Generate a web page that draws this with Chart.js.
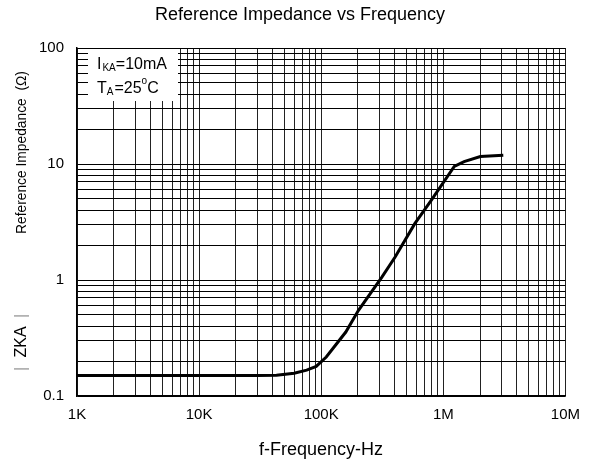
<!DOCTYPE html>
<html lang="en">
<head>
    <meta charset="UTF-8">
    <title>Reference Impedance vs Frequency</title>
    <script src="https://cdn.jsdelivr.net/npm/chart.js"></script>
    <style>
        html, body { margin: 0; padding: 0; background: #fff; }
        #wrap { width: 590px; height: 465px; }
    </style>
</head>
<body>
<div id="wrap"><canvas id="zkaChart" width="590" height="465"></canvas></div>

<script>
    // values
    const freqHz = [1000, 10000, 30000, 43000, 60000, 76000, 91000, 110000, 159000, 202000,
                    314000, 403000, 584000, 796000, 1230000, 1480000, 2010000, 3100000];
    const zkaOhm = [0.15, 0.15, 0.15, 0.151, 0.157, 0.167, 0.18, 0.217, 0.356, 0.548,
                    1.06, 1.58, 3.06, 4.86, 9.55, 10.5, 11.6, 11.9];

    const xTickLabels = { 1e3: '1K', 1e4: '10K', 1e5: '100K', 1e6: '1M', 1e7: '10M' };
    const yTickLabels = { 0.1: '0.1', 1: '1', 10: '10', 100: '100' };

    const FONT = '"Liberation Sans", Arial, sans-serif';

    // 1..9 x 10^n ticks so every log grid line is drawn
    function logTicks(min, max) {
        const out = [];
        for (let e = Math.round(Math.log10(min)); e < Math.round(Math.log10(max)); e++) {
            for (let m = 1; m < 10; m++) out.push(+(m * Math.pow(10, e)).toPrecision(3));
        }
        out.push(max);
        return out.map(v => ({ value: v }));
    }

    const textPlugin = {
        id: 'textPlugin',
        beforeDatasetsDraw(chart) {
            const ctx = chart.ctx;
            // white legend box hiding the grid
            ctx.save();
            ctx.fillStyle = '#fff';
            ctx.fillRect(88, 49, 90, 52);
            ctx.restore();
        },
        afterDraw(chart) {
            const ctx = chart.ctx;
            ctx.save();
            ctx.fillStyle = '#000';
            ctx.textBaseline = 'alphabetic';

            // title
            ctx.font = '18px ' + FONT;
            ctx.textAlign = 'center';
            ctx.fillText('Reference Impedance vs Frequency', 300, 20);

            // x title
            ctx.fillText('f-Frequency-Hz', 321, 455);

            // y title (rotated, a bit squeezed along its length like the original)
            ctx.save();
            ctx.translate(26, 222);
            ctx.rotate(-Math.PI / 2);
            ctx.textAlign = 'left';
            ctx.font = '15px ' + FONT;
            ctx.save();
            ctx.scale(0.92, 1);
            ctx.fillText('Reference Impedance  (\u03A9)', -12 / 0.92, 0);
            ctx.restore();
            ctx.textAlign = 'center';
            ctx.font = '16px ' + FONT;
            ctx.fillText('ZKA', -120, 0);
            ctx.fillStyle = '#999';
            ctx.fillText('|', -147, 0);
            ctx.fillText('|', -94, 0);
            ctx.restore();

            // legend text
            ctx.textAlign = 'left';
            let x = 97;
            ctx.font = '16px ' + FONT;
            ctx.fillText('I', x, 69);
            x += ctx.measureText('I').width + 1;
            ctx.font = '10px ' + FONT;
            ctx.fillText('KA', x, 71);
            x += ctx.measureText('KA').width;
            ctx.font = '16px ' + FONT;
            ctx.fillText('=10mA', x, 69);

            x = 97;
            ctx.fillText('T', x, 93);
            x += ctx.measureText('T').width;
            ctx.font = '10px ' + FONT;
            ctx.fillText('A', x, 95);
            x += ctx.measureText('A').width + 1;
            ctx.font = '16px ' + FONT;
            ctx.fillText('=25', x, 93);
            x += ctx.measureText('=25').width;
            ctx.font = '10px ' + FONT;
            ctx.fillText('o', x, 84);
            x += ctx.measureText('o').width;
            ctx.font = '16px ' + FONT;
            ctx.fillText('C', x, 93);
            ctx.restore();
        }
    };

    const ctx = document.getElementById('zkaChart').getContext('2d');
    const zkaChart = new Chart(ctx, {
        type: 'line',
        data: {
            datasets: [{
                data: freqHz.map((f, i) => ({ x: f, y: zkaOhm[i] })),
                borderColor: '#000',
                borderWidth: 3,
                pointRadius: 0,
                tension: 0,
                fill: false
            }]
        },
        options: {
            responsive: false,
            animation: false,
            layout: { padding: { left: 0, top: 48, right: 17, bottom: 0 } },
            plugins: {
                legend: { display: false },
                title: { display: false },
                tooltip: { enabled: false }
            },
            scales: {
                x: {
                    type: 'logarithmic',
                    min: 1e3,
                    max: 1e7,
                    afterBuildTicks: s => { s.ticks = logTicks(1e3, 1e7); },
                    afterFit: s => { s.height = 69; },
                    grid: { color: '#222', lineWidth: 1, drawTicks: false },
                    border: { color: '#000', width: 1.5 },
                    ticks: {
                        autoSkip: false,
                        maxRotation: 0,
                        padding: 10,
                        color: '#000',
                        font: { family: FONT, size: 15 },
                        callback: v => xTickLabels[v] || ''
                    }
                },
                y: {
                    type: 'logarithmic',
                    min: 0.1,
                    max: 100,
                    afterBuildTicks: s => { s.ticks = logTicks(0.1, 100); },
                    afterFit: s => { s.width = 77; },
                    grid: { color: '#000', lineWidth: 1, drawTicks: false },
                    border: { color: '#000', width: 1.5 },
                    ticks: {
                        autoSkip: false,
                        padding: 13,
                        color: '#000',
                        font: { family: FONT, size: 15 },
                        callback: v => yTickLabels[v] || ''
                    }
                }
            }
        },
        plugins: [textPlugin]
    });
</script>
</body>
</html>
